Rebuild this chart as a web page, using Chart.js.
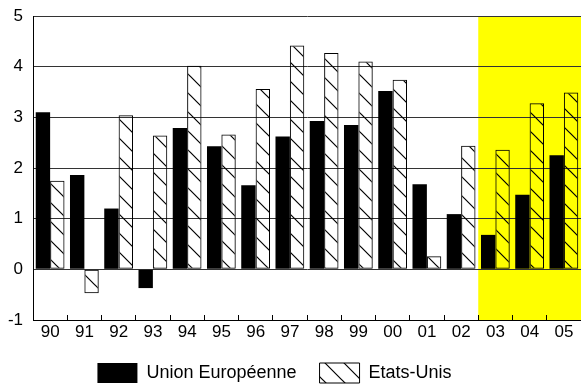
<!DOCTYPE html>
<html>
<head>
<meta charset="utf-8">
<script src="https://cdn.jsdelivr.net/npm/chart.js@4.4.0/dist/chart.umd.min.js"></script>
<style>
  html, body { margin: 0; padding: 0; background: #fff; }
  #wrap { width: 581px; height: 390px; }
</style>
</head>
<body>
<div id="wrap"><canvas id="chart"></canvas></div>
<script>
const years = ['90', '91', '92', '93', '94', '95', '96', '97', '98', '99', '00', '01', '02', '03', '04', '05'];
const unionEuropeenne = [3.10, 1.86, 1.20, -0.37, 2.79, 2.43, 1.66, 2.62, 2.93, 2.85, 3.52, 1.68, 1.09, 0.68, 1.47, 2.25];
const etatsUnis = [1.75, -0.47, 3.04, 2.64, 4.02, 2.66, 3.56, 4.42, 4.27, 4.10, 3.74, 0.26, 2.44, 2.36, 3.28, 3.49];
const forecastFrom = '03';

// diagonal hatch, transparent so the grid and yellow show through
function hatch() {
  const c = document.createElement('canvas');
  c.width = 19; c.height = 19;
  const g = c.getContext('2d');
  g.strokeStyle = '#000';
  g.lineWidth = 1.2;
  g.beginPath();
  g.moveTo(-1, -1); g.lineTo(20, 20);
  g.moveTo(-1, 18); g.lineTo(1, 20);
  g.moveTo(18, -1); g.lineTo(20, 1);
  g.stroke();
  return g.createPattern(c, 'repeat');
}

const yellowBand = {
  id: 'yellowBand',
  beforeDraw(chart) {
    const x = chart.scales.x;
    const i = years.indexOf(forecastFrom);
    const left = (x.getPixelForValue(i - 1) + x.getPixelForValue(i)) / 2;
    const a = chart.chartArea;
    const ctx = chart.ctx;
    ctx.save();
    ctx.fillStyle = '#ffff00';
    ctx.fillRect(left, a.top, a.right - left, a.bottom - a.top);
    ctx.restore();
  }
};

// the legend sits a bit left of centre in the original
const legendShift = {
  id: 'legendShift',
  afterLayout(chart) {
    chart.legend.right -= 32;
  }
};

new Chart(document.getElementById('chart').getContext('2d'), {
  type: 'bar',
  data: {
    labels: years,
    datasets: [
      {
        label: 'Union Européenne',
        data: unionEuropeenne,
        backgroundColor: '#000',
        borderColor: '#000',
        borderWidth: 0
      },
      {
        label: 'Etats-Unis',
        data: etatsUnis,
        backgroundColor: hatch(),
        borderColor: '#000',
        borderWidth: 1,
        borderSkipped: false
      }
    ]
  },
  options: {
    responsive: true,
    maintainAspectRatio: false,
    animation: false,
    categoryPercentage: 0.84,
    barPercentage: 1,
    layout: { padding: { top: 0, right: 0, bottom: -3, left: 0 } },
    plugins: {
      tooltip: { enabled: false },
      legend: {
        position: 'bottom',
        labels: {
          boxWidth: 40,
          boxHeight: 20,
          padding: 23,
          color: '#000',
          font: { family: 'Liberation Sans, Arial, sans-serif', size: 18 }
        }
      }
    },
    scales: {
      x: {
        afterFit(scale) { scale.height = 20; },
        grid: { offset: true, drawOnChartArea: false, tickLength: -5, color: '#000' },
        border: { color: '#000', width: 1 },
        ticks: {
          color: '#000',
          padding: 7,
          font: { family: 'Liberation Sans, Arial, sans-serif', size: 17 }
        }
      },
      y: {
        min: -1,
        max: 5,
        afterFit(scale) {
          scale.width = 33;
          scale.paddingTop = 16;
          scale.paddingBottom = 0;
        },
        grid: { color: '#333', drawTicks: false },
        border: { color: '#000', width: 1 },
        ticks: {
          stepSize: 1,
          color: '#000',
          padding: 10,
          font: { family: 'Liberation Sans, Arial, sans-serif', size: 17 }
        }
      }
    }
  },
  plugins: [yellowBand, legendShift]
});
</script>
</body>
</html>
